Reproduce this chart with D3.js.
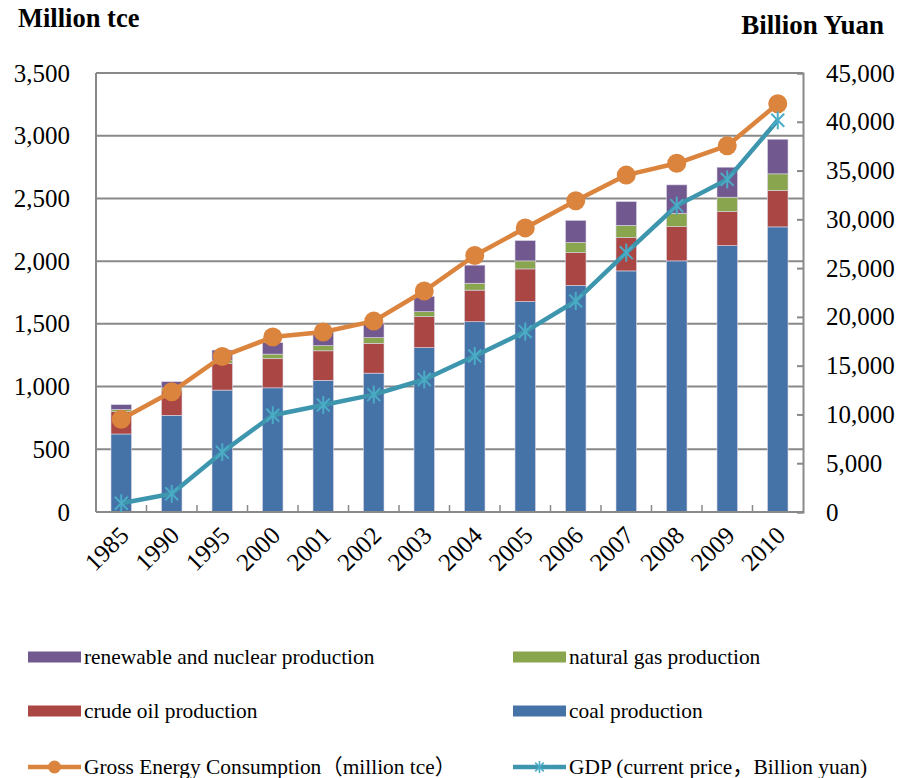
<!DOCTYPE html>
<html>
<head>
<meta charset="utf-8">
<script src="https://cdn.jsdelivr.net/npm/d3@7"></script>
<style>
  html, body { margin: 0; padding: 0; background: #fff; }
  svg { display: block; }
  text { font-family: "Liberation Serif", "Times New Roman", "Noto Sans CJK SC", serif; fill: #000; }
</style>
</head>
<body>
<svg id="chart" width="904" height="778"></svg>
<script>
// Years on the category axis
const years = ["1985","1990","1995","2000","2001","2002","2003","2004","2005","2006","2007","2008","2009","2010"];

// Primary energy production by source (million tce), stacked bottom to top
const coal      = [622, 771, 972, 990, 1050, 1107, 1310, 1517, 1678, 1807, 1922, 2002, 2124, 2273];
const crudeOil  = [178, 197, 214, 232, 235, 238, 247, 252, 260, 261, 266, 273, 271, 290];
const naturalGas= [17, 21, 25, 37, 41, 45, 40, 55, 64, 81, 97, 107, 115, 133];
const renewable = [39, 50, 80, 91, 111, 116, 122, 144, 162, 176, 190, 226, 239, 276];

// Gross energy consumption (million tce), left axis
const consumption = [740, 958, 1240, 1395, 1435, 1522, 1762, 2045, 2265, 2482, 2686, 2780, 2920, 3255];

// GDP at current prices (billion yuan), right axis
const gdp = [902, 1867, 6134, 9922, 10966, 12033, 13582, 15988, 18494, 21631, 26581, 31405, 34090, 40151];

// Axis ticks
const leftTicks  = [0, 500, 1000, 1500, 2000, 2500, 3000, 3500];
const rightTicks = [0, 5000, 10000, 15000, 20000, 25000, 30000, 35000, 40000, 45000];

const seriesKeys   = ["coal", "crudeOil", "naturalGas", "renewable"];
const seriesColors = { coal: "#4572a7", crudeOil: "#aa4643", naturalGas: "#89a54e", renewable: "#71588f" };
const orange = "#db843d";
const teal = "#3d96ae";
const tealMarker = "#4bacc6";
const gridColor = "#898989";

const plot = { left: 96, right: 803, top: 73, bottom: 512 };

const svg = d3.select("#chart");

const x = d3.scaleBand().domain(years).range([plot.left, plot.right])
  .paddingInner(0.594).paddingOuter(0.297);
const yL = d3.scaleLinear().domain([0, 3500]).range([plot.bottom, plot.top]);
const yR = d3.scaleLinear().domain([0, 45000]).range([plot.bottom, plot.top]);
const fmt = d3.format(",");

// Horizontal gridlines on the left-axis values
svg.append("g").selectAll("line").data(leftTicks).join("line")
  .attr("x1", plot.left).attr("x2", plot.right)
  .attr("y1", d => yL(d)).attr("y2", d => yL(d))
  .attr("stroke", gridColor).attr("stroke-width", 2);

// Stacked production bars
const table = years.map((yr, i) => ({
  year: yr, coal: coal[i], crudeOil: crudeOil[i], naturalGas: naturalGas[i], renewable: renewable[i]
}));
const stacked = d3.stack().keys(seriesKeys)(table);
svg.append("g").selectAll("g").data(stacked).join("g")
  .attr("fill", d => seriesColors[d.key])
  .selectAll("rect").data(d => d).join("rect")
  .attr("x", d => x(d.data.year))
  .attr("width", x.bandwidth())
  .attr("y", d => yL(d[1]))
  .attr("height", d => yL(d[0]) - yL(d[1]))
  .attr("stroke", "#dcd6e6").attr("stroke-width", 0.6);

// Left axis labels
const leftAxis = d3.axisLeft(yL).tickValues(leftTicks).tickFormat(fmt).tickSize(0).tickPadding(26);
const gL = svg.append("g").attr("transform", `translate(${plot.left},0)`).call(leftAxis);
gL.select(".domain").remove();
gL.selectAll("text").attr("font-size", 25).attr("font-family", "Liberation Serif, Times New Roman, serif");

// Left axis line
svg.append("line").attr("x1", plot.left).attr("x2", plot.left)
  .attr("y1", plot.top).attr("y2", plot.bottom)
  .attr("stroke", gridColor).attr("stroke-width", 2);

// Right axis with inward ticks
const rightAxis = d3.axisRight(yR).tickValues(rightTicks).tickFormat(fmt).tickSize(-6).tickPadding(23);
const gR = svg.append("g").attr("transform", `translate(${plot.right},0)`).call(rightAxis);
gR.select(".domain").attr("stroke", gridColor).attr("stroke-width", 2);
gR.selectAll(".tick line").attr("stroke", gridColor).attr("stroke-width", 2);
gR.selectAll("text").attr("font-size", 25).attr("font-family", "Liberation Serif, Times New Roman, serif");

// Category axis: baseline, inward ticks between bands, rotated year labels
svg.append("line").attr("x1", plot.left).attr("x2", plot.right)
  .attr("y1", plot.bottom).attr("y2", plot.bottom)
  .attr("stroke", gridColor).attr("stroke-width", 2);
const step = x.step();
svg.append("g").selectAll("line").data(years.slice(1)).join("line")
  .attr("x1", d => x(d) - (step - x.bandwidth()) / 2)
  .attr("x2", d => x(d) - (step - x.bandwidth()) / 2)
  .attr("y1", plot.bottom).attr("y2", plot.bottom - 7)
  .attr("stroke", gridColor).attr("stroke-width", 1.5);
svg.append("g").selectAll("text").data(years).join("text")
  .attr("transform", d => `translate(${x(d) + x.bandwidth() / 2 + 9},${plot.bottom + 25}) rotate(-45)`)
  .attr("text-anchor", "end")
  .attr("font-size", 25)
  .text(d => d);

// Gross energy consumption line with circle markers
const lineL = d3.line().x((d, i) => x(years[i]) + x.bandwidth() / 2).y(d => yL(d));
svg.append("path").datum(consumption).attr("d", lineL)
  .attr("fill", "none").attr("stroke", orange).attr("stroke-width", 4.5).attr("stroke-linejoin", "round");
svg.append("g").selectAll("circle").data(consumption).join("circle")
  .attr("cx", (d, i) => x(years[i]) + x.bandwidth() / 2)
  .attr("cy", d => yL(d))
  .attr("r", 9.5).attr("fill", orange);

// GDP line with asterisk markers
const lineR = d3.line().x((d, i) => x(years[i]) + x.bandwidth() / 2).y(d => yR(d));
svg.append("path").datum(gdp).attr("d", lineR)
  .attr("fill", "none").attr("stroke", teal).attr("stroke-width", 4.5).attr("stroke-linejoin", "round");

function asterisk(g, cx, cy, s, color, w) {
  const a = s * 0.72;
  g.append("line").attr("x1", cx).attr("x2", cx).attr("y1", cy - s).attr("y2", cy + s);
  g.append("line").attr("x1", cx - a).attr("x2", cx + a).attr("y1", cy - a).attr("y2", cy + a);
  g.append("line").attr("x1", cx - a).attr("x2", cx + a).attr("y1", cy + a).attr("y2", cy - a);
  g.selectAll("line").attr("stroke", color).attr("stroke-width", w);
}
gdp.forEach((d, i) => {
  const g = svg.append("g");
  asterisk(g, x(years[i]) + x.bandwidth() / 2, yR(d), 9, tealMarker, 2);
});

// Axis unit titles
svg.append("text").attr("x", 18).attr("y", 27).attr("font-size", 26.5).attr("font-weight", "bold").text("Million tce");
svg.append("text").attr("x", 884).attr("y", 34).attr("text-anchor", "end")
  .attr("font-size", 27).attr("font-weight", "bold").text("Billion Yuan");

// Legend
const legendItems = [
  { label: "renewable and nuclear production", kind: "rect", color: seriesColors.renewable, x: 28, y: 657 },
  { label: "natural gas production", kind: "rect", color: seriesColors.naturalGas, x: 513, y: 657 },
  { label: "crude oil production", kind: "rect", color: seriesColors.crudeOil, x: 28, y: 711 },
  { label: "coal production", kind: "rect", color: seriesColors.coal, x: 513, y: 711 },
  { label: "Gross Energy Consumption（million tce）", kind: "circle", color: orange, x: 28, y: 767 },
  { label: "GDP (current price，Billion yuan)", kind: "star", color: teal, x: 513, y: 767 }
];
const lg = svg.append("g");
legendItems.forEach(it => {
  const g = lg.append("g");
  if (it.kind === "rect") {
    g.append("rect").attr("x", it.x).attr("y", it.y - 5.5).attr("width", 53).attr("height", 11).attr("fill", it.color);
  } else {
    g.append("line").attr("x1", it.x).attr("x2", it.x + 53).attr("y1", it.y).attr("y2", it.y)
      .attr("stroke", it.color).attr("stroke-width", 4.5);
    if (it.kind === "circle") {
      g.append("circle").attr("cx", it.x + 26.5).attr("cy", it.y).attr("r", 6.5).attr("fill", it.color);
    } else {
      asterisk(g.append("g"), it.x + 26.5, it.y, 6, tealMarker, 1.6);
    }
  }
  g.append("text").attr("x", it.x + 56).attr("y", it.y).attr("dy", "0.35em")
    .attr("font-size", 21.4).text(it.label);
});
</script>
</body>
</html>
